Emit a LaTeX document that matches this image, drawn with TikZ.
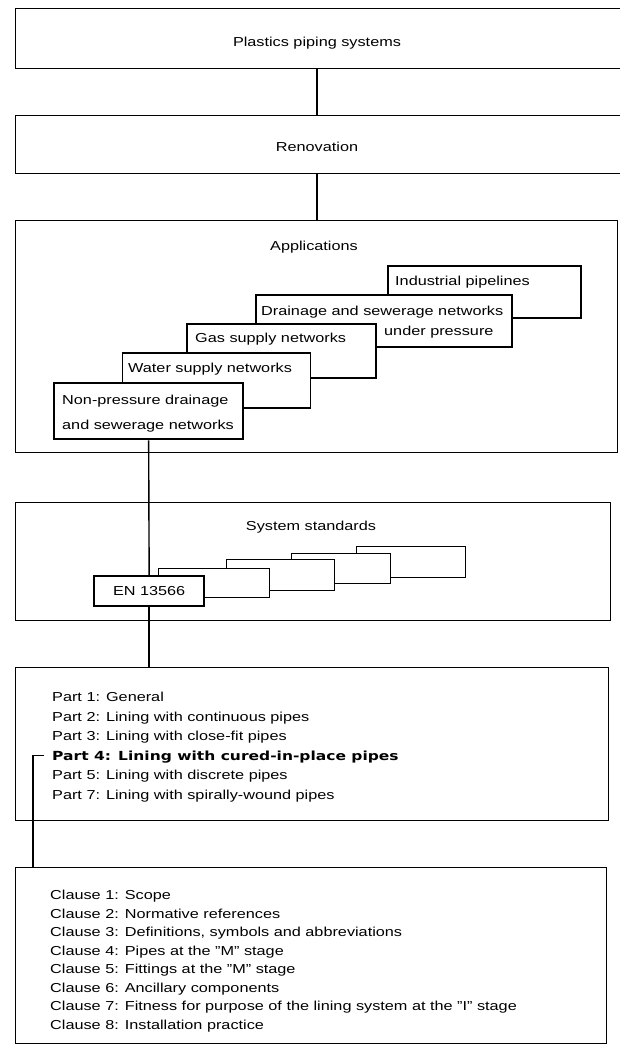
\documentclass[tikz,border=0pt]{standalone}
\usepackage{fontspec}
\setmainfont{Liberation Sans}[FakeStretch=1.25]
\newfontfamily\boldfont{DejaVu Sans}[FakeStretch=1.24]
\begin{document}
\begin{tikzpicture}[x=1pt,y=-1pt,
  frame/.style={draw=black, line width=1.2pt, inner sep=0pt, anchor=north west},
  appbox/.style={draw=black, fill=white, line width=1.5pt, inner sep=0pt, anchor=north west},
  keybox/.style={draw=black, fill=white, line width=2.3pt, inner sep=0pt, anchor=north west},
  stdbox/.style={draw=black, fill=white, line width=1.2pt, inner sep=0pt, anchor=north west},
  lbl/.style={font=\fontsize{13}{15}\selectfont, text=black, inner sep=0pt},
  lline/.style={lbl, anchor=base west},
  wire/.style={draw=black, line width=1.4pt},
]
\useasboundingbox (0,0) rectangle (619,1051);

% main frames
\node[frame, minimum width=612pt, minimum height=60pt] (b1) at (15,8) {};
\node[frame, minimum width=612pt, minimum height=58pt] (b2) at (15,115) {};
\node[frame, minimum width=602pt, minimum height=232pt] (b3) at (15,220) {};
\node[frame, minimum width=595pt, minimum height=118pt] (b4) at (15,502) {};
\node[frame, minimum width=593pt, minimum height=153pt] (b5) at (15,667) {};
\node[frame, minimum width=591pt, minimum height=176pt] (b6) at (15,867) {};

\node[lbl] (t1) at (317,43) {Plastics piping systems};
\node[lbl] (t2) at (317,147) {Renovation};
\node[lbl] (t3) at (314,247) {Applications};
\node[lbl] (t4) at (311,527) {System standards};

% connectors between main frames
\coordinate (cx) at (317,0);
\draw[wire] (b1.south -| cx) -- (b2.north -| cx);
\draw[wire] (b2.south -| cx) -- (b3.north -| cx);

% application boxes
\node[appbox, minimum width=193pt, minimum height=52pt] (ind) at (387,265) {};
\node[appbox, minimum width=256pt, minimum height=52pt] (dra) at (255,294) {};
\node[appbox, minimum width=189pt, minimum height=54pt] (gas) at (186,323) {};
\node[appbox, minimum width=188pt, minimum height=55pt] (wat) at (121.5,352) {};
\node[keybox, minimum width=189pt, minimum height=56pt] (np) at (53,382) {};

\node[lline] (tind) at (395,285.5) {Industrial pipelines};
\node[lline] (tdra1) at (261,315.5) {Drainage and sewerage networks};
\node[lline] (tdra2) at (384,335) {under pressure};
\node[lline] (tgas) at (195,342.5) {Gas supply networks};
\node[lline] (twat) at (128,372.5) {Water supply networks};
\node[lline] (tnp1) at (62,404.5) {Non-pressure drainage};
\node[lline] (tnp2) at (62,429.5) {and sewerage networks};

% system standards boxes
\node[stdbox, minimum width=109pt, minimum height=31pt] (s5) at (356,546) {};
\node[stdbox, minimum width=99pt, minimum height=30pt] (s4) at (291,553) {};
\node[stdbox, minimum width=108pt, minimum height=31pt] (s3) at (226,559) {};
\node[stdbox, minimum width=111pt, minimum height=29pt] (s2) at (158,568) {};
\node[keybox, minimum width=110pt, minimum height=30pt] (en) at (93,575) {};
\node[lbl] (ten) at (en.center) {EN 13566};

% connectors
\draw[wire] (np.south) -- (en.north);
\draw[wire] (en.south) -- (en.south |- b5.north);

% parts
\node[lline] (p1) at (52,701.5) {Part 1: General};
\node[lline] (p2) at (52,721) {Part 2: Lining with continuous pipes};
\node[lline] (p3) at (52,740.5) {Part 3: Lining with close-fit pipes};
\node[lline, font=\boldfont\bfseries\fontsize{12.5}{15}\selectfont] (p4) at (52,760) {Part 4: Lining with cured-in-place pipes};
\node[lline] (p5) at (52,779.5) {Part 5: Lining with discrete pipes};
\node[lline] (p7) at (52,799) {Part 7: Lining with spirally-wound pipes};

\coordinate (bk) at (33,0);
\draw[wire] ([xshift=-8pt,yshift=4.5pt]p4.base west) -| (bk |- b6.north);

% clauses
\node[lline] (c1) at (50,899.5) {Clause 1: Scope};
\node[lline] (c2) at (50,918.1) {Clause 2: Normative references};
\node[lline] (c3) at (50,936.6) {Clause 3: Definitions, symbols and abbreviations};
\node[lline] (c4) at (50,955.2) {Clause 4: Pipes at the "M" stage};
\node[lline] (c5) at (50,973.8) {Clause 5: Fittings at the "M" stage};
\node[lline] (c6) at (50,992.4) {Clause 6: Ancillary components};
\node[lline] (c7) at (50,1010.9) {Clause 7: Fitness for purpose of the lining system at the "I" stage};
\node[lline] (c8) at (50,1029.5) {Clause 8: Installation practice};
\end{tikzpicture}
\end{document}
